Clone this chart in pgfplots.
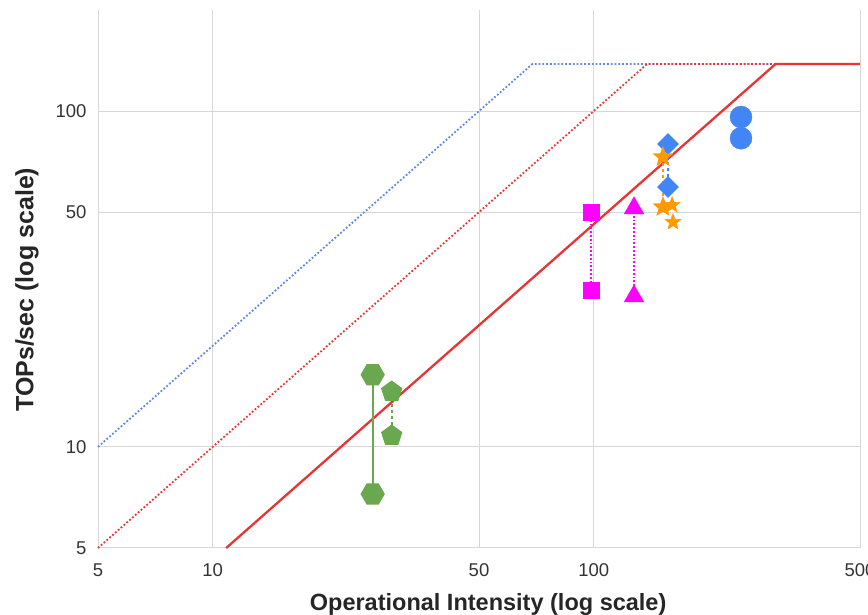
\documentclass[border=0pt]{standalone}
\usepackage{pgfplots}
\pgfplotsset{compat=1.18}
\usepackage{fontspec}
\setmainfont{Liberation Sans}
\definecolor{gridc}{RGB}{215,215,215}
\definecolor{roofred}{RGB}{232,52,52}
\definecolor{roofblue}{RGB}{95,135,230}
\definecolor{ggreen}{RGB}{106,168,79}
\definecolor{gmag}{RGB}{255,0,255}
\definecolor{gblue}{RGB}{66,133,244}
\definecolor{gorange}{RGB}{255,153,0}
\pgfdeclareplotmark{hexagon*}{%
  \pgfpathmoveto{\pgfpointpolar{0}{\pgfplotmarksize}}%
  \pgfpathlineto{\pgfpointpolar{60}{\pgfplotmarksize}}%
  \pgfpathlineto{\pgfpointpolar{120}{\pgfplotmarksize}}%
  \pgfpathlineto{\pgfpointpolar{180}{\pgfplotmarksize}}%
  \pgfpathlineto{\pgfpointpolar{240}{\pgfplotmarksize}}%
  \pgfpathlineto{\pgfpointpolar{300}{\pgfplotmarksize}}%
  \pgfpathclose\pgfusepathqfillstroke}
\pgfdeclareplotmark{fstar}{%
  \pgfpathmoveto{\pgfpointpolar{90}{\pgfplotmarksize}}%
  \pgfpathlineto{\pgfpointpolar{126}{0.42\pgfplotmarksize}}%
  \pgfpathlineto{\pgfpointpolar{162}{\pgfplotmarksize}}%
  \pgfpathlineto{\pgfpointpolar{198}{0.42\pgfplotmarksize}}%
  \pgfpathlineto{\pgfpointpolar{234}{\pgfplotmarksize}}%
  \pgfpathlineto{\pgfpointpolar{270}{0.42\pgfplotmarksize}}%
  \pgfpathlineto{\pgfpointpolar{306}{\pgfplotmarksize}}%
  \pgfpathlineto{\pgfpointpolar{342}{0.42\pgfplotmarksize}}%
  \pgfpathlineto{\pgfpointpolar{18}{\pgfplotmarksize}}%
  \pgfpathlineto{\pgfpointpolar{54}{0.42\pgfplotmarksize}}%
  \pgfpathclose\pgfusepathqfillstroke}
\begin{document}
\begin{tikzpicture}
\begin{axis}[
  at={(0,0)}, anchor=south west,
  scale only axis, width=762pt, height=538pt,
  xmode=log, ymode=log,
  xmin=5, xmax=500, ymin=5, ymax=200,
  xtick={5,10,50,100,500}, xticklabels={5,10,50,100,500},
  ytick={5,10,50,100}, yticklabels={5,10,50,100},
  minor xtick={}, minor ytick={},
  axis line style={draw=none},
  major tick length=0pt,
  grid=major, grid style={gridc, line width=1pt},
  tick label style={font=\fontsize{18.5}{22}\selectfont, text=black!80},
  xticklabel style={yshift=-12pt},
  yticklabel style={xshift=-8pt},
  xlabel={\textbf{Operational Intensity (log scale)}},
  ylabel={\textbf{TOPs/sec (log scale)}},
  xlabel style={font=\fontsize{23.5}{26}\selectfont, text=black!85, at={(axis description cs:0.512,0)}, anchor=center, yshift=-56pt},
  ylabel style={font=\fontsize{25}{28}\selectfont, text=black!85, at={(axis description cs:0,0.48)}, anchor=center, yshift=71pt},
  clip=false,
]
% rooflines
\addplot[roofblue, line width=1.8pt, dotted, no marks] coordinates {(5,10) (69,138) (500,138)};
\addplot[roofred, line width=1.8pt, dotted, no marks] coordinates {(5,5) (138,138) (500,138)};
\addplot[roofred, line width=2.3pt, no marks] coordinates {(10.85,5) (300,138) (500,138)};
% green hexagons
\addplot[ggreen, line width=2pt, mark=hexagon*, mark size=11pt, mark options={solid, fill=ggreen}] coordinates {(26.3,16.4) (26.3,7.24)};
% green pentagons
\addplot[ggreen, line width=2pt, dashed, mark=pentagon*, mark size=10pt, mark options={solid, fill=ggreen}] coordinates {(29.5,14.6) (29.5,10.8)};
% magenta squares
\addplot[gmag, line width=1.8pt, dotted, mark=square*, mark size=7.5pt, mark options={solid, fill=gmag}] coordinates {(98.5,50) (98.5,29.2)};
% magenta triangles
\addplot[gmag, line width=1.8pt, dotted, mark=triangle*, mark size=10pt, mark options={solid, fill=gmag}] coordinates {(127.6,51.4) (127.6,28.1)};
% blue diamonds
\addplot[gblue, line width=1.8pt, dashed, mark=square*, mark size=6.8pt, mark options={solid, fill=gblue, rotate=45}] coordinates {(156.7,79.8) (156.7,59.4)};
% orange stars
\addplot[gorange, line width=1.8pt, dashed, mark=fstar, mark size=8.5pt, mark options={solid, fill=gorange}] coordinates {(152,73) (152,51.8)};
\addplot[gorange, only marks, mark=fstar, mark size=8.5pt, mark options={solid, fill=gorange}] coordinates {(160.6,52.5) (161.5,46.7)};
% blue circles
\addplot[gblue, only marks, mark=*, mark size=11pt, mark options={fill=gblue}] coordinates {(243.6,96) (243.6,83)};
\end{axis}
\pgfresetboundingbox
\path[use as bounding box] (-98pt,-67pt) rectangle (770pt,548pt);
\end{tikzpicture}
\end{document}
